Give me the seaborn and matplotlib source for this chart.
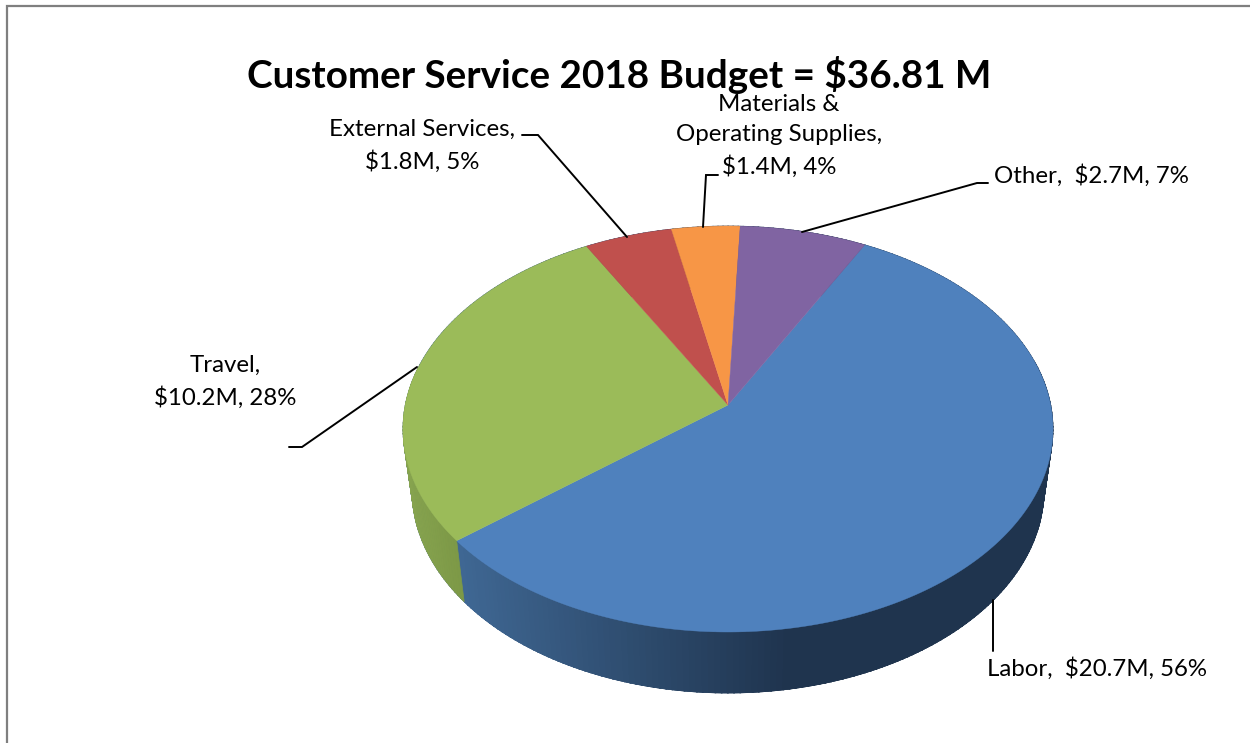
import numpy as np
import matplotlib
matplotlib.use("Agg")
import matplotlib.pyplot as plt
import seaborn as sns

# chart data
categories = ["Labor", "Travel", "External Services", "Materials & Operating Supplies", "Other"]
budget_musd = [20.74, 10.2, 1.8, 1.4, 2.6]
slice_colors = ["#4f81bd", "#9bbb59", "#c0504d", "#f79646", "#8064a2"]
title = "Customer Service 2018 Budget = $36.81 M"

# label text, split in lines like the original
label_lines = [
    ["Labor,  $20.7M, 56%"],
    ["Travel,", "$10.2M, 28%"],
    ["External Services,", "$1.8M, 5%"],
    ["Materials &", "Operating Supplies,", "$1.4M, 4%"],
    ["Other,  $2.7M, 7%"],
]
label_pos = [(1097, 669), (225, 382), (422, 146), (779, 136), (1091, 176)]
leaders = [
    ([993, 993], [600, 651]),
    ([289, 302, 417], [447, 447, 367]),
    ([522, 538, 627], [135, 135, 237]),
    ([718, 706, 703], [175, 175, 227]),
    ([988, 977, 802], [183, 183, 232]),
]

# pie geometry in pixels
cx = 728
top_cy, top_rx, top_ry = 429, 325, 203
bot_cy, bot_rx, bot_ry = 490, 316, 203
tilt = 0.118  # how far perspective pushes the pie centre back


def project(theta, cy, rx, ry):
    # unit circle -> perspective ellipse
    t = np.radians(theta)
    d = 1 + tilt * np.sin(t)
    x = np.cos(t) * np.sqrt(1 - tilt ** 2) / d
    y = (np.sin(t) + tilt) / d
    return cx + rx * x, cy - ry * y


def mix(c1, c2, f):
    c1 = np.array(matplotlib.colors.to_rgb(c1))
    c2 = np.array(matplotlib.colors.to_rgb(c2))
    return tuple(c1 + (c2 - c1) * f)


sns.set_theme(style="white")
plt.rcParams["font.family"] = ["Lato", "DejaVu Sans"]

fig = plt.figure(figsize=(12.5, 7.43), dpi=100)
ax = fig.add_axes([0, 0, 1, 1])

# the pie gives the slice angles, the perspective is applied afterwards
wedges, _ = ax.pie(budget_musd, colors=slice_colors, startangle=62.1, counterclock=False)
angles = [(w.theta1, w.theta2) for w in wedges]
for w in wedges:
    w.remove()

ax.set_aspect("auto")
ax.set_xlim(0, 1250)
ax.set_ylim(743, 0)
ax.axis("off")

# side wall, shaded by screen position
labor_start = angles[0][0]
for th in np.arange(labor_start, 372, 1.0):
    th2 = th + 1.2
    x1, y1 = project(np.array([th, th2]), top_cy, top_rx, top_ry)
    x2, y2 = project(np.array([th2, th]), bot_cy, bot_rx, bot_ry)
    f = np.clip((x1.mean() - 460) / (790 - 460), 0, 1)
    c = mix("#3f6793", "#1f344e", f)
    ax.fill(np.r_[x1, x2], np.r_[y1, y2], color=c, lw=0.5, zorder=1)
for th in np.arange(labor_start - 50, labor_start, 1.0):
    th2 = min(th + 1.2, labor_start)
    x1, y1 = project(np.array([th, th2]), top_cy, top_rx, top_ry)
    x2, y2 = project(np.array([th2, th]), bot_cy, bot_rx, bot_ry)
    f = np.clip((x1.mean() - 405) / (460 - 405), 0, 1)
    c = mix("#87a44f", "#7c9846", f)
    ax.fill(np.r_[x1, x2], np.r_[y1, y2], color=c, lw=0.5, zorder=1)

# top face
apex_y = top_cy - top_ry * tilt
for (a, b), col in zip(angles, slice_colors):
    th = np.linspace(a, b, 200)
    x, y = project(th, top_cy, top_rx, top_ry)
    ax.fill(np.r_[cx, x], np.r_[apex_y, y], color=col, lw=0.3, zorder=2)

# leader lines
for xs, ys in leaders:
    ax.plot(xs, ys, color="black", lw=1.4, zorder=3, solid_joinstyle="miter")

# labels
for lines, (lx, ly) in zip(label_lines, label_pos):
    ax.text(lx, ly, "\n".join(lines), ha="center", va="center", fontsize=17.3,
            color="black", linespacing=1.55, zorder=4)

ax.text(619, 75, title, ha="center", va="center", fontsize=27.8, fontweight="bold",
        color="black", zorder=5)

# slide frame
ax.plot([7, 7, 1250], [743, 5.5, 5.5], color="#7f7f7f", lw=1.6, zorder=6,
        solid_joinstyle="miter")

fig.savefig("out.png", dpi=100, facecolor="white")
plt.close(fig)
